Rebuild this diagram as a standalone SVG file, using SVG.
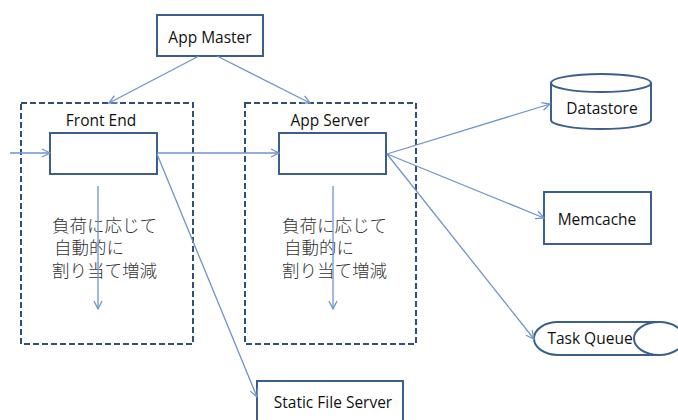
<svg xmlns="http://www.w3.org/2000/svg" width="678" height="420" viewBox="0 0 678 420">
  <style>
    .box { fill: #ffffff; stroke: #3b5f8c; stroke-width: 2; }
    .group { fill: none; stroke: #2f4f7a; stroke-width: 2; stroke-dasharray: 6 3; }
    .conn { fill: none; stroke: #6f94cc; stroke-width: 1.3; marker-end: url(#arrow); }
    .label { font-family: "Open Sans", "Liberation Sans", sans-serif; font-size: 15.5px; fill: #111111; text-anchor: middle; }
    .jp { font-family: "Noto Sans CJK JP", sans-serif; font-size: 17.5px; font-weight: 300; fill: #333333; }
  </style>
  <defs>
    <marker id="arrow" viewBox="0 0 10 10" refX="9" refY="5" markerWidth="10" markerHeight="10" markerUnits="userSpaceOnUse" orient="auto">
      <path d="M1,1 L9,5 L1,9" fill="none" stroke="#6f94cc" stroke-width="1.3"/>
    </marker>
  </defs>

  <!-- dashed scaling groups -->
  <g id="front-end">
    <rect class="group" x="21" y="103" width="172" height="241"/>
    <text class="label" x="101" y="126">Front End</text>
    <rect class="box" x="50" y="133" width="107" height="41"/>
    <text class="jp">
      <tspan x="52" y="232">負荷に応じて</tspan>
      <tspan x="54" y="254">自動的に</tspan>
      <tspan x="52" y="277">割り当て増減</tspan>
    </text>
  </g>

  <g id="app-server">
    <rect class="group" x="245" y="103" width="171" height="241"/>
    <text class="label" x="330" y="126">App Server</text>
    <rect class="box" x="279" y="133" width="107" height="41"/>
    <text class="jp">
      <tspan x="282" y="232">負荷に応じて</tspan>
      <tspan x="284" y="254">自動的に</tspan>
      <tspan x="282" y="277">割り当て増減</tspan>
    </text>
  </g>

  <g id="app-master">
    <rect class="box" x="157" y="15" width="106" height="41"/>
    <text class="label" x="210" y="43">App Master</text>
  </g>

  <g id="datastore">
    <path class="box" d="M551,83 L551,120 A50,9 0 0 0 651,120 L651,83"/>
    <ellipse class="box" cx="601" cy="83" rx="50" ry="9"/>
    <text class="label" x="602" y="114">Datastore</text>
  </g>

  <g id="memcache">
    <rect class="box" x="544" y="192" width="107" height="52"/>
    <text class="label" x="597" y="225">Memcache</text>
  </g>

  <g id="task-queue">
    <path class="box" d="M660,322 L558,322 A24,16.5 0 0 0 558,355 L660,355"/>
    <ellipse class="box" cx="659" cy="338.5" rx="25" ry="16.5"/>
    <text class="label" x="590" y="344">Task Queue</text>
  </g>

  <g id="static-file-server">
    <rect class="box" x="257" y="381" width="146" height="45"/>
    <text class="label" x="333" y="408">Static File Server</text>
  </g>

  <g id="connectors">
    <line class="conn" x1="10" y1="153" x2="50" y2="153"/>
    <line class="conn" x1="157" y1="153" x2="279" y2="153"/>
    <line class="conn" x1="199" y1="56" x2="109" y2="103"/>
    <line class="conn" x1="217" y1="56" x2="310" y2="103"/>
    <line class="conn" x1="98" y1="186" x2="98" y2="309"/>
    <line class="conn" x1="333" y1="186" x2="333" y2="309"/>
    <line class="conn" x1="157" y1="154" x2="257" y2="397"/>
    <line class="conn" x1="387" y1="154" x2="550" y2="104"/>
    <line class="conn" x1="387" y1="154" x2="544" y2="218"/>
    <line class="conn" x1="387" y1="154" x2="534" y2="339"/>
  </g>
</svg>
